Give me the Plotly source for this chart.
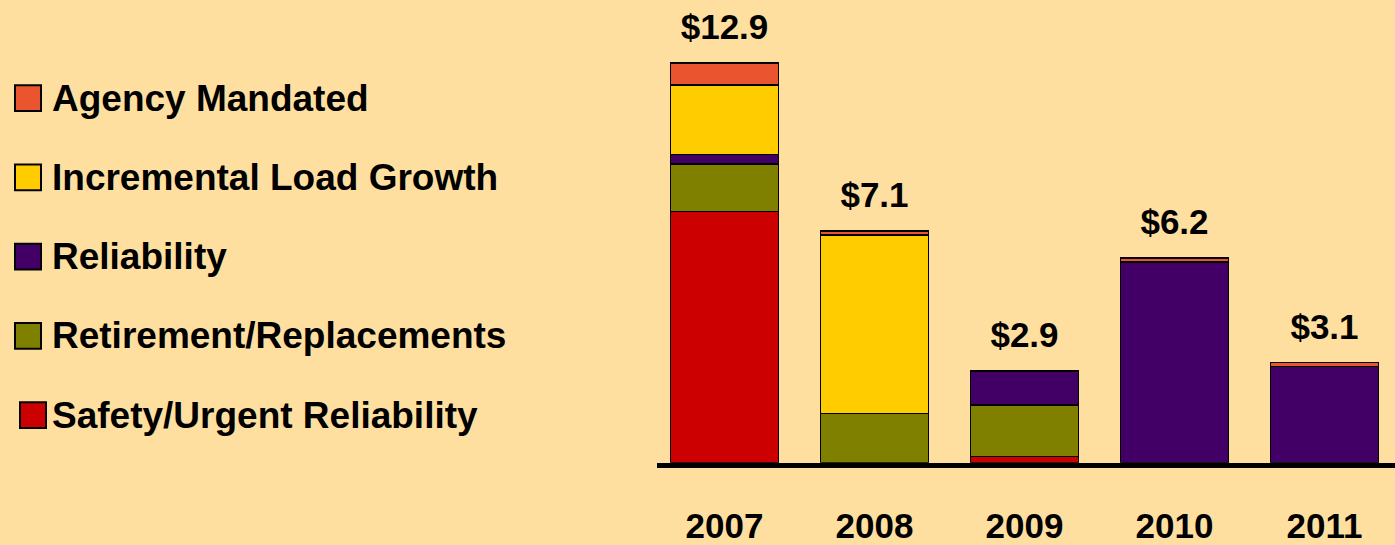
import plotly.graph_objects as go

years = ['2007', '2008', '2009', '2010', '2011']
safety = [8.1, None, 0.2, None, None]
retirement = [1.52, 1.59, 1.65, None, None]
reliability = [0.32, None, 1.09, 6.48, 3.1]
load_growth = [2.24, 5.74, None, None, None]
agency = [0.72, 0.15, 0.03, 0.13, 0.13]
total_labels = ['$12.9', '$7.1', '$2.9', '$6.2', '$3.1']

series_names = ['Agency Mandated', 'Incremental Load Growth', 'Reliability',
                'Retirement/Replacements', 'Safety/Urgent Reliability']
series_colors = ['#EA5530', '#FFCC00', '#420066', '#7F7F00', '#CC0000']
series_values = [agency, load_growth, reliability, retirement, safety]

W, H = 1395, 545
BG = '#FEDFA0'
FONT = 'Liberation Sans, Arial, sans-serif'

fig = go.Figure()
# stack bottom-up: safety first
for name, color, vals in reversed(list(zip(series_names, series_colors, series_values))):
    fig.add_trace(go.Bar(
        x=years, y=vals, name=name,
        marker=dict(color=color, line=dict(color='#000000', width=1.8)),
        showlegend=False,
    ))

totals = [sum(v for v in col if v is not None) for col in zip(*series_values)]
fig.add_trace(go.Scatter(
    x=years, y=totals, mode='markers+text',
    text=['<b>%s</b>' % t for t in total_labels],
    textposition='top center',
    marker=dict(size=22, opacity=0),
    textfont=dict(family=FONT, size=35, color='#000000'),
    showlegend=False, hoverinfo='skip', cliponaxis=False,
))

# manual legend
row_centers = [99, 179, 259, 339, 419]
for i, (name, color, yc) in enumerate(zip(series_names, series_colors, row_centers)):
    x0 = 20 if i == 4 else 15
    fig.add_shape(type='rect', xref='paper', yref='paper',
                  x0=x0 / W, x1=(x0 + 26) / W,
                  y0=1 - (yc + 13) / H, y1=1 - (yc - 13) / H,
                  fillcolor=color, line=dict(color='#000000', width=2))
    fig.add_annotation(x=50 / W, y=1 - yc / H, xref='paper', yref='paper',
                       text='<b>%s</b>' % name, showarrow=False,
                       xanchor='left', yanchor='middle',
                       font=dict(family=FONT, size=37, color='#000000'))

fig.update_layout(
    width=W, height=H,
    margin=dict(l=0, r=0, t=0, b=0),
    paper_bgcolor=BG, plot_bgcolor=BG,
    barmode='stack', bargap=0.28,
    xaxis=dict(domain=[657 / W, 1], range=[-0.45, 4.47], type='category',
               showline=True, linecolor='#000000', linewidth=5,
               showgrid=False, zeroline=False,
               ticks='outside', ticklen=28, tickcolor='rgba(0,0,0,0)',
               tickfont=dict(family=FONT, size=35, color='#000000'),
               tickprefix='<b>', ticksuffix='</b>'),
    yaxis=dict(domain=[78 / H, 1], range=[0, 467 / 31.3], visible=False,
               showgrid=False, zeroline=False),
)

fig.write_html('out.html', config={'displayModeBar': False},
               post_script="document.body.style.margin='0';"
                           "document.body.style.overflow='hidden';")
